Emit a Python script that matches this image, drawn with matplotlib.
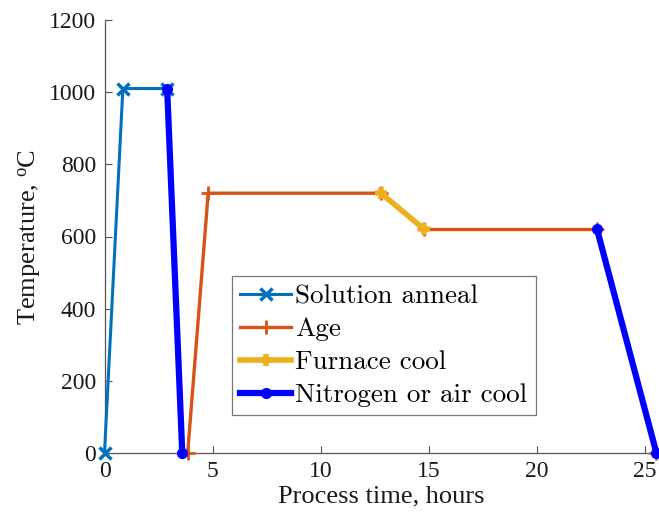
import matplotlib
matplotlib.use("Agg")
import matplotlib.pyplot as plt

plt.rcParams['font.family'] = ['Liberation Serif', 'DejaVu Serif']
plt.rcParams['mathtext.fontset'] = 'custom'
plt.rcParams['mathtext.rm'] = 'Liberation Serif'
plt.rcParams['mathtext.it'] = 'Liberation Serif:italic'

# Data
anneal_t = [0, 0.85, 2.9]
anneal_T = [0, 1010, 1010]

age1_t = [3.85, 4.8, 12.8]
age1_T = [0, 720, 720]
age2_t = [14.8, 22.8, 25.55]
age2_T = [620, 620, 0]

furnace_t = [12.8, 14.8]
furnace_T = [720, 620]

n2a_t = [2.9, 3.6]
n2a_T = [1010, 0]
n2b_t = [22.8, 25.55]
n2b_T = [620, 0]

xticks = [0, 5, 10, 15, 20, 25]
yticks = [0, 200, 400, 600, 800, 1000, 1200]

c_anneal = '#0072BD'
c_age = '#D95319'
c_furn = '#EDB120'
c_n2 = '#0000FF'

fig = plt.figure(figsize=(6.59, 5.22), dpi=100)
ax = fig.add_axes([104.5/659, 69/522, 553/659, 433/522])

ax.plot(anneal_t, anneal_T, color=c_anneal, lw=2.2, marker='x', ms=8, mew=2.5,
        label='Solution anneal', clip_on=False, zorder=3)
ax.plot(age1_t, age1_T, color=c_age, lw=2.4, marker='+', ms=10, mew=2,
        label='Age', clip_on=False, zorder=3)
ax.plot(age2_t[:2], age2_T[:2], color=c_age, lw=2.4, marker='+', ms=10, mew=2,
        clip_on=False, zorder=3)
ax.plot(age2_t[2:], age2_T[2:], color=c_age, lw=0, marker='+', ms=10, mew=2,
        clip_on=False, zorder=3)
ax.plot(furnace_t, furnace_T, color=c_furn, lw=4, marker='+', ms=8, mew=4,
        label='Furnace cool', clip_on=False, zorder=4)
ax.plot(n2a_t, n2a_T, color=c_n2, lw=4.5, marker='o', ms=7,
        label='Nitrogen or air cool', clip_on=False, zorder=5)
ax.plot(n2b_t, n2b_T, color=c_n2, lw=4.5, marker='o', ms=7,
        clip_on=False, zorder=5)

ax.set_xlim(0, 25.6)
ax.set_ylim(0, 1200)
ax.set_xticks(xticks)
ax.set_yticks(yticks)
ax.tick_params(direction='in', length=5, width=0.8, color='#555555',
               labelsize=17, labelcolor='#1a1a1a', pad=6)
for s in ['top', 'right']:
    ax.spines[s].set_visible(False)
for s in ['left', 'bottom']:
    ax.spines[s].set_color('#555555')
    ax.spines[s].set_linewidth(0.9)

ax.set_xlabel('Process time, hours', fontsize=19, color='#1a1a1a', labelpad=2)
ax.set_ylabel(r'Temperature, $^{\mathrm{o}}$C', fontsize=19, color='#1a1a1a', labelpad=4)

leg = ax.legend(loc='lower left', bbox_to_anchor=(0.230, 0.087),
                prop={'family': 'cmr10', 'size': 19.5}, frameon=True, fancybox=False,
                edgecolor='#555555', handlelength=1.9, handletextpad=0.15,
                labelspacing=0.33, borderpad=0.3, borderaxespad=0)
leg.get_frame().set_linewidth(0.9)

fig.savefig('out.png', dpi=100)
